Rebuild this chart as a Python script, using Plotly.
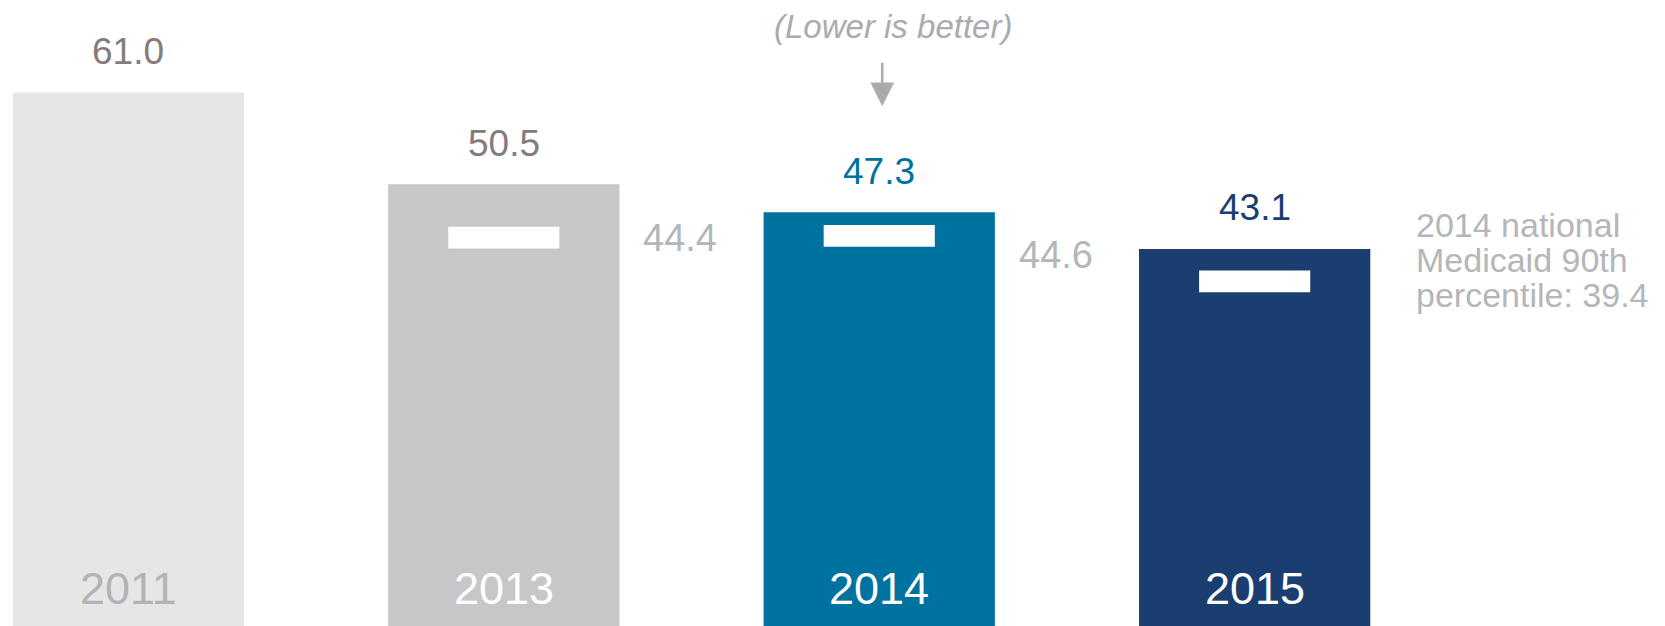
import plotly.graph_objects as go

# ---- data ----
years = ["2011", "2013", "2014", "2015"]
rates = [61.0, 50.5, 47.3, 43.1]
rate_labels = ["61.0", "50.5", "47.3", "43.1"]

bench_years = ["2013", "2014", "2015"]
benchmarks = [44.4, 44.6, 39.4]
bench_labels = ["44.4", "44.6", ""]

note_text = "(Lower is better)"
bench_note_lines = ["2014 national", "Medicaid 90th", "percentile: 39.4"]

# ---- styles ----
bar_colors = ["#e6e6e7", "#c6c7c9", "#00729f", "#193e6f"]
value_colors = ["#857b7c", "#857b7c", "#00729f", "#193e6f"]
year_colors = ["#b2b3b5", "#ffffff", "#ffffff", "#ffffff"]
gray_txt = "#b4b6b9"
FONT = "Liberation Sans, Arial, sans-serif"

BAR_W = 0.616
MARK_W = 0.296
MARK_H = 2.5

fig = go.Figure()
fig.add_trace(go.Bar(
    x=years, y=rates, width=BAR_W,
    marker=dict(color=bar_colors, line=dict(width=0)),
    hoverinfo="skip", showlegend=False,
))
fig.add_trace(go.Bar(
    x=bench_years, y=[MARK_H] * len(benchmarks),
    base=[b - MARK_H / 2 for b in benchmarks], width=MARK_W,
    marker=dict(color="#ffffff", line=dict(width=0)),
    hoverinfo="skip", showlegend=False,
))

ann = []
# value labels above bars
for i, (v, t) in enumerate(zip(rates, rate_labels)):
    ann.append(dict(x=i, y=v, xref="x", yref="y", text=t, showarrow=False,
                    yanchor="middle", yshift=41,
                    font=dict(family=FONT, size=37, color=value_colors[i])))
# year labels inside bar bottoms
for i, yr in enumerate(years):
    ann.append(dict(x=i, y=0, xref="x", yref="y", text=yr, showarrow=False,
                    yanchor="middle", yshift=38,
                    font=dict(family=FONT, size=45, color=year_colors[i])))
# benchmark labels to the right of bars
bench_shift = [0, -19, 0]
for j, (yr, b, t) in enumerate(zip(bench_years, benchmarks, bench_labels)):
    if not t:
        continue
    i = years.index(yr)
    ann.append(dict(x=i + BAR_W / 2, y=b, xref="x", yref="y", text=t, showarrow=False,
                    xanchor="left", yanchor="middle", xshift=22, yshift=bench_shift[j],
                    font=dict(family=FONT, size=38, color=gray_txt)))
# national benchmark note (right side)
i15 = years.index("2015")
for k, line in enumerate(bench_note_lines):
    ann.append(dict(x=i15 + BAR_W / 2, y=benchmarks[-1], xref="x", yref="y", text=line,
                    showarrow=False, xanchor="left", yanchor="middle",
                    xshift=44, yshift=56 - 35 * k,
                    font=dict(family=FONT, size=34, color=gray_txt)))
# "(Lower is better)" note + arrow
ann.append(dict(x=0.5363, y=1 - 26.5 / 626, xref="paper", yref="paper", text=note_text,
                showarrow=False, xanchor="center", yanchor="middle",
                font=dict(family=FONT, size=33, color="#a9abae", style="italic")))
ann.append(dict(x=years.index("2014"), y=59.4, xref="x", yref="y", text="",
                showarrow=True, ax=0, ay=-45, axref="pixel", ayref="pixel",
                arrowhead=2, arrowsize=1.9, arrowwidth=2.5, arrowcolor="#a9abae",
                xshift=3))

fig.update_layout(
    width=1665, height=626,
    margin=dict(l=0, r=0, t=0, b=0),
    paper_bgcolor="#ffffff", plot_bgcolor="#ffffff",
    barmode="overlay",
    annotations=ann,
    xaxis=dict(type="category", categoryorder="array", categoryarray=years,
               range=[-0.342, 4.093], showticklabels=False, showgrid=False,
               zeroline=False, showline=False, ticks=""),
    yaxis=dict(range=[0, 71.56], showticklabels=False, showgrid=False,
               zeroline=False, showline=False, ticks=""),
)

fig.write_html("out.html", config={"displayModeBar": False},
               post_script="document.body.style.margin='0';document.body.style.overflow='hidden';")
